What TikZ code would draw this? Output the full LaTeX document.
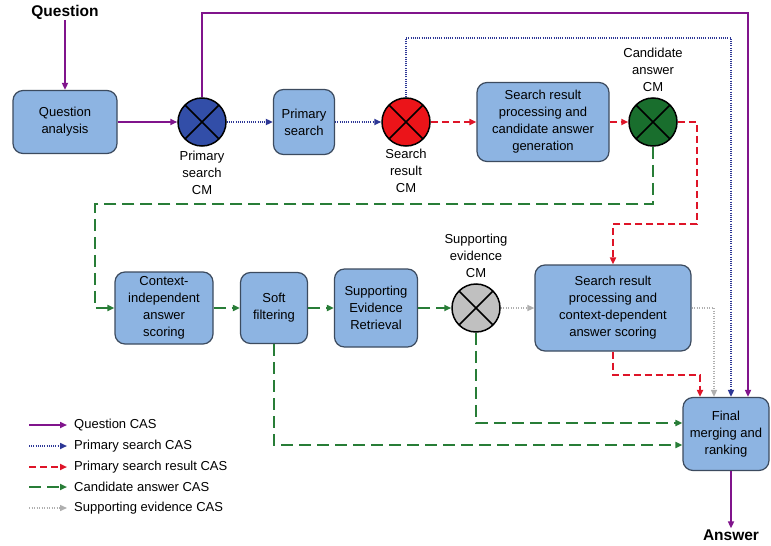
\documentclass[tikz,border=0pt]{standalone}
\usepackage{fontspec}
\setmainfont{Liberation Sans}
\usetikzlibrary{arrows.meta,positioning}
\definecolor{boxfill}{RGB}{141,180,226}
\definecolor{boxline}{RGB}{60,75,95}
\definecolor{cq}{RGB}{128,20,140}
\definecolor{cb}{RGB}{45,55,150}
\definecolor{cr}{RGB}{222,20,40}
\definecolor{cg}{RGB}{40,125,55}
\definecolor{cgr}{RGB}{175,175,175}
\definecolor{fb}{RGB}{50,78,168}
\definecolor{fr}{RGB}{235,20,25}
\definecolor{fg}{RGB}{25,110,45}
\definecolor{fgr}{RGB}{192,192,192}
\tikzset{
  proc/.style={draw=boxline, fill=boxfill, line width=1.2pt, rounded corners=10pt,
    align=center, inner sep=2pt, font=\fontsize{13}{17}\selectfont},
  cmnode/.style={circle, draw=black, line width=1.5pt, minimum size=48pt, inner sep=0pt,
    path picture={\draw[line width=1.5pt] (path picture bounding box.north west) -- (path picture bounding box.south east)
      (path picture bounding box.north east) -- (path picture bounding box.south west);}},
  lbl/.style={align=center, inner sep=1pt, font=\fontsize{13}{17}\selectfont},
  bigtxt/.style={font=\fontsize{15.5}{18}\selectfont\bfseries, inner sep=1pt},
  arrowtip/.style={-{Triangle[length=7pt,width=6pt]}},
  qline/.style={arrowtip, draw=cq, line width=1.6pt},
  bline/.style={arrowtip, draw=cb, line width=1.6pt, dash pattern=on 1pt off 1.2pt},
  rline/.style={arrowtip, draw=cr, line width=1.9pt, dash pattern=on 7pt off 4pt},
  gline/.style={arrowtip, draw=cg, line width=1.9pt, dash pattern=on 12pt off 6pt},
  eline/.style={arrowtip, draw=cgr, line width=1.4pt, dash pattern=on 1pt off 1.5pt},
}
\begin{document}
\begin{tikzpicture}[x=1pt,y=-1pt]
\useasboundingbox (0,0) rectangle (771,546);
\fill[white] (0,0) rectangle (771,546);

% boxes
\node[proc, minimum width=104pt, minimum height=63pt] (qa) at (65,122) {Question\\analysis};
\node[proc, minimum width=61pt, minimum height=65pt] (ps) at (304,122) {Primary\\search};
\node[proc, minimum width=132pt, minimum height=79pt] (srp) at (543,122) {Search result\\processing and\\candidate answer\\generation};
\node[proc, minimum width=98pt, minimum height=72pt] (ci) at (164,308) {Context-\\independent\\answer\\scoring};
\node[proc, minimum width=67pt, minimum height=71pt] (sf) at (274,308) {Soft\\filtering};
\node[proc, minimum width=83pt, minimum height=78pt] (ser) at (376,308) {Supporting\\Evidence\\Retrieval};
\node[proc, minimum width=156pt, minimum height=86pt] (scd) at (613,308) {Search result\\processing and\\context-dependent\\answer scoring};
\node[proc, minimum width=86pt, minimum height=73pt] (fm) at (726,434) {Final\\merging and\\ranking};

% CM circles
\node[cmnode, fill=fb] (psc) at (202,122) {};
\node[cmnode, fill=fr] (src) at (406,122) {};
\node[cmnode, fill=fg] (cac) at (653,122) {};
\node[cmnode, fill=fgr] (sec) at (476,308) {};

\node[lbl, anchor=north, yshift=-3pt] (psl) at (psc.south) {Primary\\search\\CM};
\node[lbl, anchor=north, yshift=-1.5pt] (srl) at (src.south) {Search\\result\\CM};
\node[lbl, anchor=south, yshift=4pt] (cal) at (cac.north) {Candidate\\answer\\CM};
\node[lbl, anchor=south, yshift=4pt] (sel) at (sec.north) {Supporting\\evidence\\CM};

% terminals
\node[bigtxt] (question) at (65,12) {Question};
\node[bigtxt] (answer) at (731,535) {Answer};

% helper coordinates
\coordinate (qtop) at (0,13);
\coordinate (btop) at (0,38);
\coordinate (rturn) at (697,224);
\coordinate (rlow) at (0,375);
\coordinate (gl) at (95,204);

% question CAS
\draw[qline] (question.south) -- (qa.north);
\draw[qline] (qa.east) -- (psc.west);
\draw[qline] (psc.north) -- (psc.north |- qtop) -| ([xshift=22pt]fm.north);
\draw[qline] (answer.north |- fm.south) -- (answer.north);

% primary search CAS
\draw[bline] (psc.east) -- (ps.west);
\draw[bline] (ps.east) -- (src.west);
\draw[bline] (src.north) -- (src.north |- btop) -| ([xshift=5pt]fm.north);

% primary search result CAS
\draw[rline] (src.east) -- (srp.west);
\draw[rline] (srp.east) -- (cac.west);
\draw[rline] (cac.east) -| (rturn) -| (scd.north);
\draw[rline] (scd.south) -- (scd.south |- rlow) -| ([xshift=-26pt]fm.north);

% candidate answer CAS
\draw[gline] (cac.south) |- (gl) |- (ci.west);
\draw[gline] (ci.east) -- (sf.west);
\draw[gline] (sf.east) -- (ser.west);
\draw[gline] (ser.east) -- (sec.west);
\draw[gline] (sec.south) |- ([yshift=11pt]fm.west);
\draw[gline] (sf.south) |- ([yshift=-11pt]fm.west);

% supporting evidence CAS
\draw[eline] (sec.east) -- (scd.west);
\draw[eline] (scd.east) -| ([xshift=-12pt]fm.north);

% legend
\coordinate (l1a) at (29,425); \coordinate (l1b) at (67,425);
\coordinate (l2a) at (29,446); \coordinate (l2b) at (67,446);
\coordinate (l3a) at (29,467); \coordinate (l3b) at (67,467);
\coordinate (l4a) at (29,487); \coordinate (l4b) at (67,487);
\coordinate (l5a) at (29,508); \coordinate (l5b) at (67,508);
\draw[qline] (l1a) -- (l1b);
\draw[bline] (l2a) -- (l2b);
\draw[rline] (l3a) -- (l3b);
\draw[gline] (l4a) -- (l4b);
\draw[eline] (l5a) -- (l5b);
\node[lbl, anchor=west] (t1) at (73,425) {Question CAS};
\node[lbl, anchor=west] (t2) at (73,446) {Primary search CAS};
\node[lbl, anchor=west] (t3) at (73,467) {Primary search result CAS};
\node[lbl, anchor=west] (t4) at (73,487) {Candidate answer CAS};
\node[lbl, anchor=west] (t5) at (73,508) {Supporting evidence CAS};
\end{tikzpicture}
\end{document}
